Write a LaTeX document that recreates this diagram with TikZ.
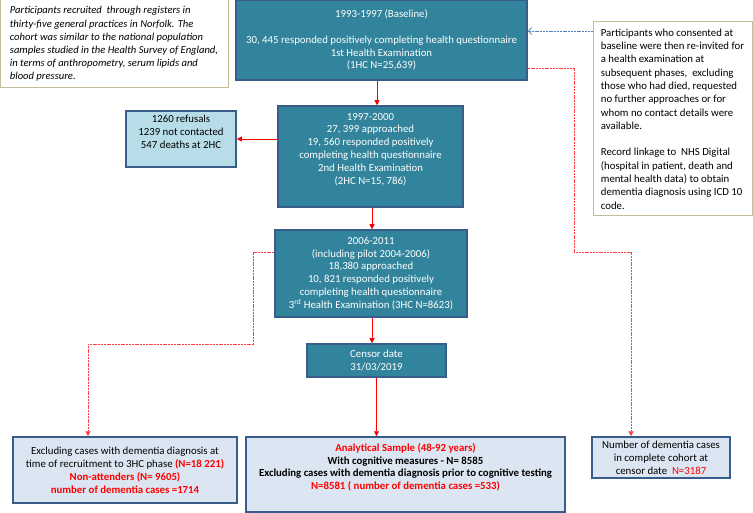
\documentclass[tikz,border=0pt]{standalone}
\usepackage{fontspec}
\setmainfont{Carlito}
\usetikzlibrary{arrows.meta}

\definecolor{phasefill}{HTML}{31849B}
\definecolor{edgeblue}{HTML}{385D8A}
\definecolor{paleblue}{HTML}{DCE6F2}
\definecolor{skyblue}{HTML}{B7DEE8}
\definecolor{notetan}{HTML}{C4BD97}
\definecolor{linkblue}{HTML}{4F81BD}
\definecolor{alert}{HTML}{FF0000}

\tikzset{
  phase/.style={draw=edgeblue, line width=1.5pt, fill=phasefill, text=white, align=center, inner sep=2pt},
  result/.style={draw=edgeblue, line width=1.5pt, fill=paleblue, align=center, inner sep=2pt},
  note/.style={draw=notetan, line width=1pt, fill=white, align=left, inner xsep=6pt, inner ysep=2pt},
  flow/.style={draw=alert, line width=0.8pt, -{Triangle[width=5pt,length=5pt]}},
  split/.style={flow, draw=alert!75, dash pattern=on 2pt off 0.8pt},
  hint/.style={draw=linkblue, line width=0.8pt, dash pattern=on 2pt off 0.8pt, -{Straight Barb[width=7pt,length=3.5pt]}}
}

\begin{document}
\begin{tikzpicture}[x=1pt, y=-1pt, font=\fontsize{10.8}{12.9}\selectfont]
  \useasboundingbox (0,0) rectangle (753,513);

  % notes
  \node[note, minimum width=228, minimum height=88, font=\fontsize{10.6}{13.2}\selectfont\itshape] (intro) at (114,44)
    {Participants recruited\ \ through registers in\\
     thirty-five general practices in Norfolk. The\\
     cohort was similar to the national population\\
     samples studied in the Health Survey of England,\\
     in terms of anthropometry, serum lipids and\\
     blood pressure.};
  \node[note, minimum width=159, minimum height=194, font=\fontsize{10.8}{13.3}\selectfont] (info) at (672.5,119)
    {Participants who consented at\\ baseline were then re-invited for\\ a health examination at\\
     subsequent phases,\ \ excluding\\ those who had died, requested\\ no further approaches or for\\
     whom no contact details were\\ available.\\[13.3pt]
     Record linkage to\ \ NHS Digital\\ (hospital in patient, death and\\ mental health data) to obtain\\
     dementia diagnosis using ICD 10\\ code.};

  % phases
  \node[phase, minimum width=291, minimum height=80] (base) at (381.5,40)
    {1993-1997 (Baseline)\\[12.9pt] 30, 445 responded positively completing health questionnaire\\
     1st Health Examination\\ (1HC N=25,639)};
  \node[phase, minimum width=185, minimum height=101, text depth=15.5pt] (p2) at (370.5,156.5)
    {1997-2000\\ 27, 399 approached\\ 19, 560 responded positively\\ completing health questionnaire\\
     2nd Health Examination\\ (2HC N=15, 786)};
  \node[draw=edgeblue, line width=1.5pt, fill=skyblue, align=center, minimum width=110,
    minimum height=56, text depth=15pt] (refuse) at (181,139)
    {1260 refusals\\ 1239 not contacted\\ 547 deaths at 2HC};
  \node[phase, minimum width=192, minimum height=87] (p3) at (371,273.5)
    {2006-2011\\ (including pilot 2004-2006)\\ 18,380 approached\\ 10, 821 responded positively\\
     completing health questionnaire\\ 3\textsuperscript{rd} Health Examination (3HC N=8623)};
  \node[phase, minimum width=139, minimum height=33] (censor) at (376.5,360.5)
    {Censor date\\ 31/03/2019};

  % outcomes
  \node[result, minimum width=224, minimum height=66] (excl) at (125,470)
    {Excluding cases with dementia diagnosis at\\
     time of recruitment to 3HC phase \textcolor{alert}{\bfseries(N=18 221)}\\
     \textcolor{alert}{\bfseries Non-attenders (N= 9605)}\\
     \textcolor{alert}{\bfseries number of dementia cases =1714}};
  \node[result, minimum width=319, minimum height=75, text depth=16pt, font=\fontsize{10.8}{12.9}\selectfont\bfseries] (anal) at (405.5,474.5)
    {\textcolor{alert}{Analytical Sample (48-92 years)}\\
     With cognitive measures - N= 8585\\
     Excluding cases with dementia diagnosis prior to cognitive testing\\
     \textcolor{alert}{N=8581 ( number of dementia cases =533)}};
  \node[result, minimum width=138, minimum height=41] (cases) at (661,457.5)
    {Number of dementia cases\\ in complete cohort at\\ censor date\ \ \textcolor{alert}{N=3187}};

  % connectors
  \coordinate (b2) at ([xshift=-4.5pt]base.south);
  \draw[flow] (b2) -- (b2 |- p2.north);
  \draw[flow] (p2.west |- refuse.east) -- (refuse.east);
  \coordinate (b3) at ([xshift=1.5pt]p2.south);
  \draw[flow] (b3) -- (b3 |- p3.north);
  \coordinate (b4) at ([xshift=1pt]p3.south);
  \draw[flow] (b4) -- (b4 |- censor.north);
  \draw[flow] (censor.south) -- (censor.south |- anal.north);

  \coordinate (ib) at ([yshift=88pt]info.west);
  \draw[hint] (ib) -- (ib -| base.east);

  \coordinate (rs) at ([yshift=-28pt]base.east);
  \coordinate (rbend) at (574,252);
  \draw[split] (rs) -| (rbend) -| ([xshift=-30pt]cases.north);
  \coordinate (ls) at ([yshift=21.5pt]p3.west);
  \coordinate (lbend) at (253,344);
  \draw[split] (ls) -| (lbend) -| ([xshift=-37pt]excl.north);
\end{tikzpicture}
\end{document}
